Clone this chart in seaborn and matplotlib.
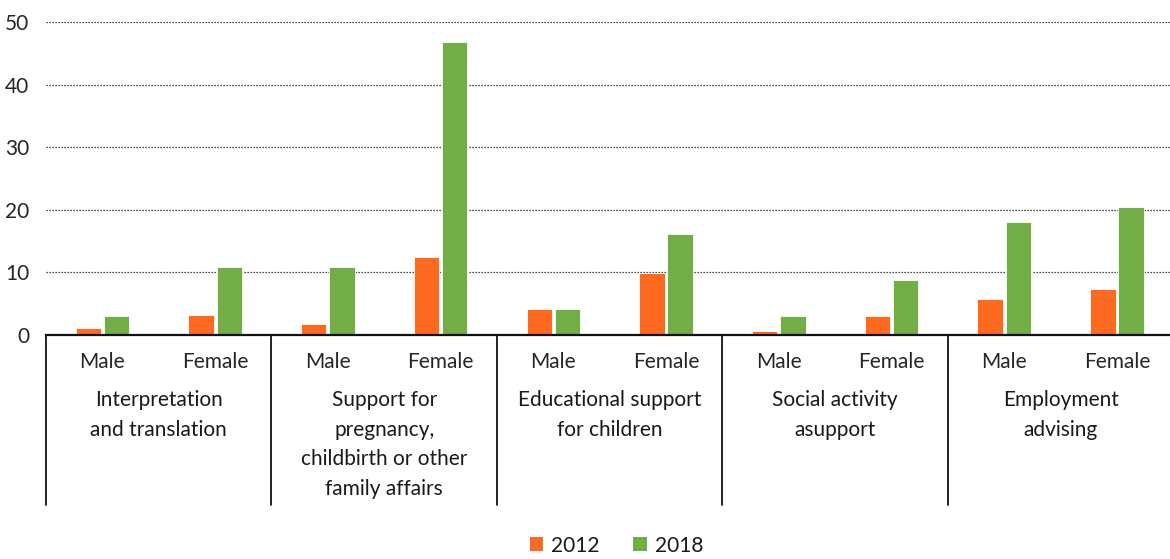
import matplotlib
matplotlib.use("Agg")
import matplotlib.pyplot as plt
import seaborn as sns
import pandas as pd
from matplotlib.patches import Patch
from matplotlib.transforms import blended_transform_factory

# Support services used, by sex, in 2012 and 2018
services = [
    "Interpretation\nand translation",
    "Support for\npregnancy,\nchildbirth or other\nfamily affairs",
    "Educational support\nfor children",
    "Social activity\nasupport",
    "Employment\nadvising",
]
sexes = ["Male", "Female"]
years = ["2012", "2018"]
share_2012 = [1.1, 3.2, 1.8, 12.5, 4.2, 9.9, 0.7, 3.0, 5.7, 7.3]
share_2018 = [3.1, 10.8, 10.9, 46.8, 4.2, 16.2, 3.0, 8.8, 18.0, 20.4]
y_ticks = [0, 10, 20, 30, 40, 50]

colors = {"2012": "#FF6A21", "2018": "#72AD45"}

slots = [f"{s}|{x}" for s in range(len(services)) for x in sexes]
rows = []
for i, slot in enumerate(slots):
    rows.append({"slot": slot, "year": "2012", "value": share_2012[i]})
    rows.append({"slot": slot, "year": "2018", "value": share_2018[i]})
df = pd.DataFrame(rows)

sns.set_style("white")
plt.rcParams["font.family"] = ["Lato", "DejaVu Sans"]
plt.rcParams["text.color"] = "#1a1a1a"

fig = plt.figure(figsize=(11.7, 5.59), dpi=100)
W, H = 1170, 559
left, right, top, bottom = 46, 1170, 22, 335
ax = fig.add_axes([left / W, 1 - bottom / H, (right - left) / W, (bottom - top) / H])

sns.barplot(
    data=df, x="slot", y="value", hue="year", order=slots, hue_order=years,
    palette=colors, saturation=1, width=0.5, gap=0.1, edgecolor="white",
    linewidth=0.6, ax=ax, legend=False,
)

FS = 15
ax.set_ylim(0, 50)
ax.set_xlim(-0.5, 9.47)
ax.set_yticks(y_ticks)
ax.set_yticklabels([str(v) for v in y_ticks], fontsize=FS)
ax.set_xticks(range(len(slots)))
ax.set_xticklabels([s.split("|")[1] for s in slots], fontsize=FS)
ax.tick_params(axis="y", length=0, pad=12)
ax.tick_params(axis="x", length=0, pad=12)
ax.set_xlabel("")
ax.set_ylabel("")

ax.yaxis.grid(True, color="#111111", linestyle=(0, (1, 1.4)), linewidth=0.9)
ax.set_axisbelow(True)
for side in ["left", "right", "top"]:
    ax.spines[side].set_visible(False)
ax.spines["bottom"].set_color("#111111")
ax.spines["bottom"].set_linewidth(1.6)

# Group labels and separators beneath the axis
trans = blended_transform_factory(ax.transData, ax.transAxes)
for g, name in enumerate(services):
    ax.text(2 * g + 0.5, -0.176, name, transform=trans, ha="center", va="top",
            fontsize=FS, linespacing=1.6)
for b in range(len(services) + 1):
    ax.plot([2 * b - 0.5, 2 * b - 0.5], [0, -0.543], transform=trans,
            color="#111111", linewidth=1.3, clip_on=False)

handles = [Patch(facecolor=colors[y], edgecolor="none", label=y) for y in years]
fig.legend(handles=handles, loc="center", bbox_to_anchor=(0.527, 0.024),
           ncol=2, frameon=False, fontsize=FS, handlelength=0.65,
           handleheight=0.65, handletextpad=0.4, columnspacing=1.6)

fig.savefig("out.png", dpi=100)
